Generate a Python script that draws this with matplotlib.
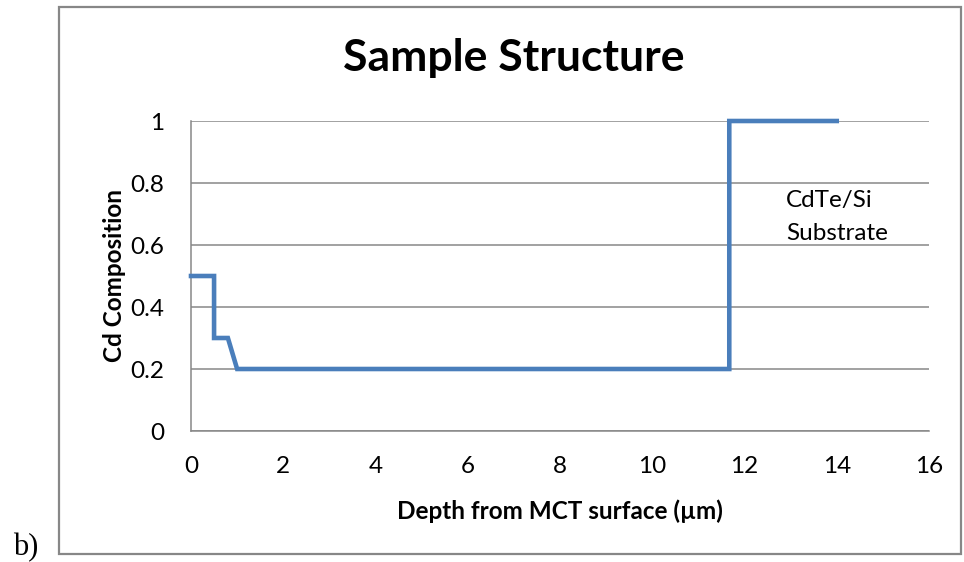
import matplotlib.pyplot as plt
from matplotlib.patches import Rectangle

# layer profile
depth = [0, 0.5, 0.5, 0.8, 1.0, 11.67, 11.67, 14.0]
cd = [0.5, 0.5, 0.3, 0.3, 0.2, 0.2, 1.0, 1.0]

xticks = [0, 2, 4, 6, 8, 10, 12, 14, 16]
yticks = [0, 0.2, 0.4, 0.6, 0.8, 1]
ytick_labels = ['0', '0.2', '0.4', '0.6', '0.8', '1']

plt.rcParams['font.family'] = ['Lato', 'DejaVu Sans']

W, H = 964, 562
fig = plt.figure(figsize=(W / 100, H / 100), dpi=100)
ax = fig.add_axes([191 / W, 1 - 431 / H, (929 - 191) / W, (431 - 121) / H])

ax.plot(depth, cd, color='#4A7EBB', lw=3.3, solid_joinstyle='miter', clip_on=False, zorder=3)

ax.set_xlim(0, 16)
ax.set_ylim(0, 1)
ax.set_xticks(xticks)
ax.set_yticks(yticks)
ax.set_yticklabels(ytick_labels)
ax.tick_params(length=0, labelsize=17.5, colors='black')
ax.tick_params(axis='x', pad=18)
ax.tick_params(axis='y', pad=19)
ax.grid(axis='y', color='#878787', lw=1.1)
ax.set_axisbelow(True)
for s in ['top', 'right']:
    ax.spines[s].set_visible(False)
for s in ['left', 'bottom']:
    ax.spines[s].set_color('#878787')
    ax.spines[s].set_linewidth(1.1)

ax.set_xlabel('Depth from MCT surface (µm)', fontsize=17.5, fontweight='bold', labelpad=16)
ax.set_ylabel('Cd Composition', fontsize=17.5, fontweight='bold', labelpad=3)

ax.text(12.9, 0.69, 'CdTe/Si\nSubstrate', fontsize=17.5, ha='left', va='center', linespacing=1.7)

fig.text(514 / W, 1 - 58 / H, 'Sample Structure', fontsize=32, fontweight='bold', ha='center', va='center')

# outer chart frame and panel letter
fig.patches.append(Rectangle((59 / W, 1 - 554 / H), (961 - 59) / W, (554 - 7) / H,
                             transform=fig.transFigure, fill=False, ec='#878787', lw=1.6))
fig.text(13 / W, 1 - 555 / H, 'b)', fontsize=22, family='Liberation Serif', va='baseline')

fig.savefig('out.png', dpi=100)
